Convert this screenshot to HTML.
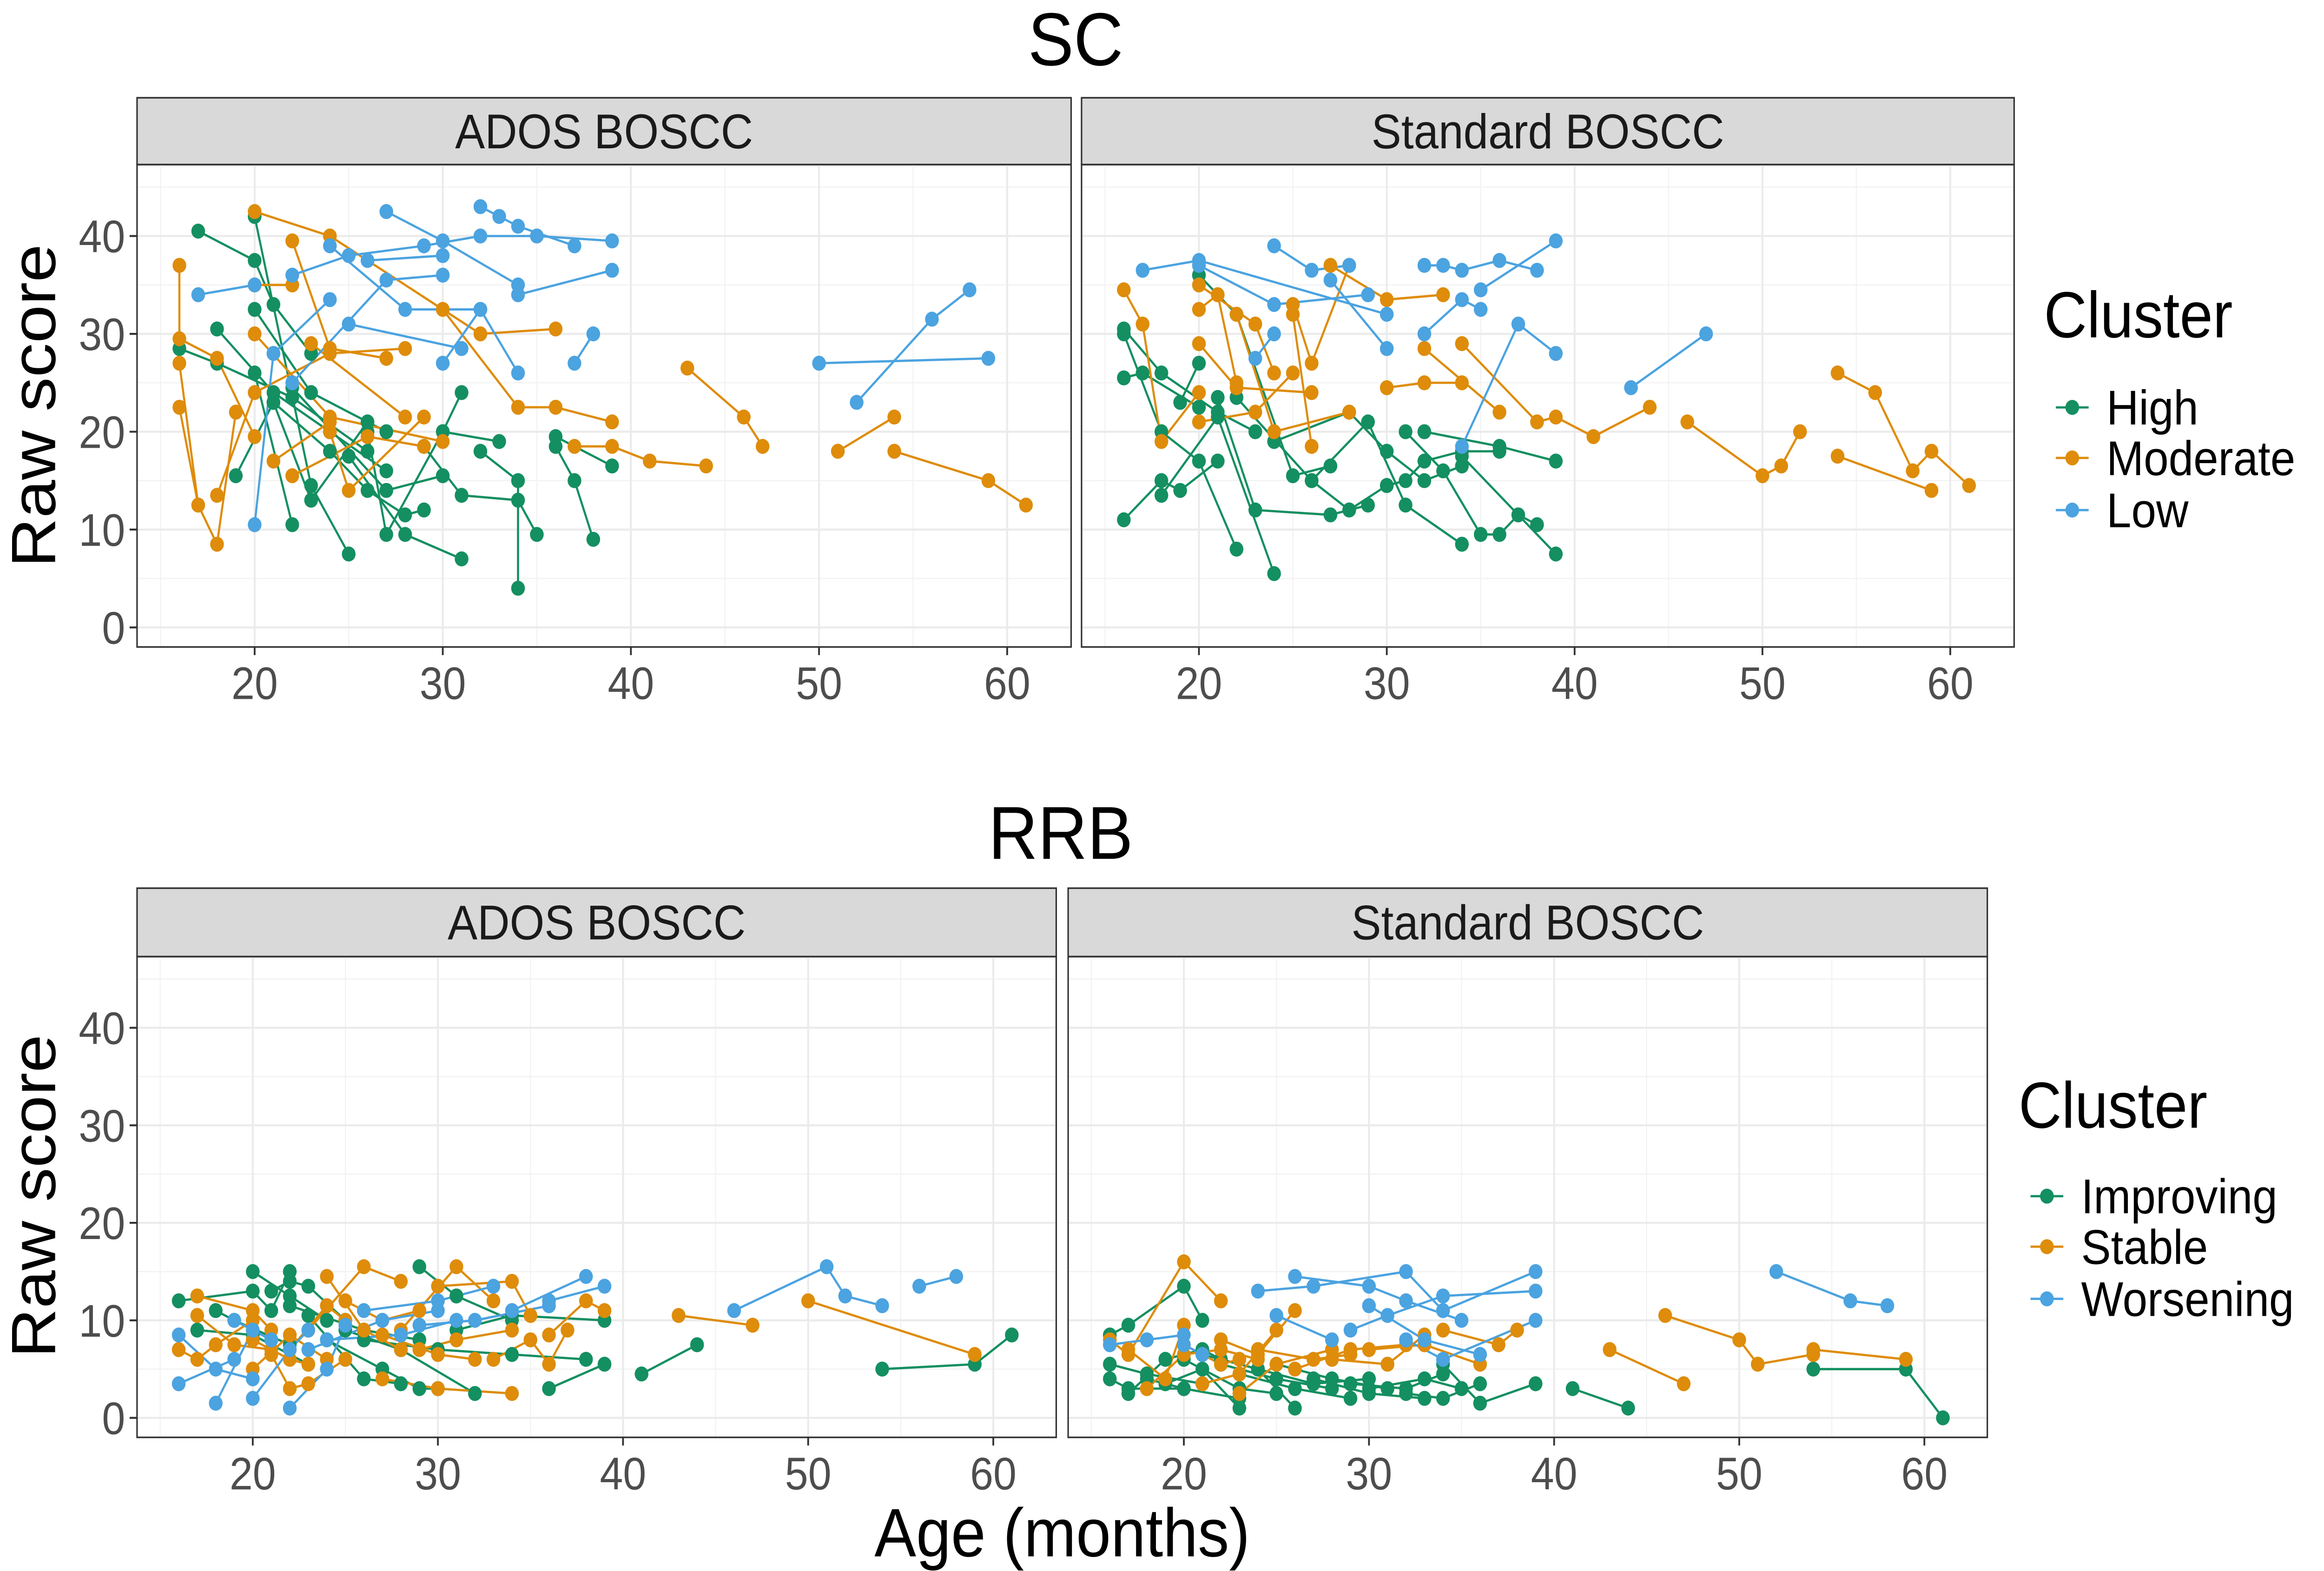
<!DOCTYPE html>
<html><head><meta charset="utf-8">
<style>
html,body{margin:0;padding:0;background:#fff;width:100%;height:100%;overflow:hidden;}
svg{display:block;position:absolute;left:0;top:0;width:100vw;height:100vh;font-family:"Liberation Sans",Arial,sans-serif;}
</style></head>
<body>
<svg id="chart" viewBox="0 0 1560 964" preserveAspectRatio="none" xmlns="http://www.w3.org/2000/svg">
<g id="root"></g>
</svg>
<script>
// ---------- data ----------
const xTicks = [20, 30, 40, 50, 60];
const yTicks = [0, 10, 20, 30, 40];
const scClusters = ["High", "Moderate", "Low"];
const rrbClusters = ["Improving", "Stable", "Worsening"];
const facetNames = ["ADOS BOSCC", "Standard BOSCC"];

const scAdosHigh = [
 [[17,40.5],[20,37.5],[21,33],[23,28]],[[16,28.5],[18,27],[22,23.5],[26,18]],[[18,30.5],[21,24],[24,20],[27,16]],
 [[20,42],[23,14.5],[25,7.5]],[[19,15.5],[21,23],[23,13],[26,21]],[[20,26],[22,10.5]],
 [[21,23],[24,18],[26,14],[28,11.5],[29,12]],[[22,24.5],[27,14],[30,15.5]],[[25,17.5],[28,9.5],[31,7]],
 [[26,20],[27,9.5],[30,20],[33,19]],[[29,18.5],[31,13.5],[34,13],[35,9.5]],[[30,20],[31,24]],
 [[32,18],[34,15],[34,4]],[[36,18.5],[37,15],[38,9]],[[36,19.5],[39,16.5]],[[20,32.5],[23,24],[27,20]]];
const scAdosModerate = [
 [[16,37],[16,27],[17,12.5]],[[20,42.5],[24,40],[32,30],[36,30.5]],[[16,29.5],[18,27.5],[20,19.5]],
 [[16,22.5],[17,12.5],[18,8.5],[19,22]],[[18,13.5],[20,24],[24,28],[28,28.5]],[[22,39.5],[24,28.5],[27,27.5]],
 [[20,35],[22,35]],[[21,17],[24,21]],[[23,29],[28,21.5]],[[24,20],[25,14],[29,21.5]],
 [[30,32.5],[34,22.5],[36,22.5],[39,21]],[[22,15.5],[26,19.5],[29,18.5]],[[37,18.5],[39,18.5],[41,17],[44,16.5]],
 [[43,26.5],[46,21.5],[47,18.5]],[[51,18],[54,21.5]],[[54,18],[59,15],[61,12.5]],[[20,30],[24,21.5],[30,19]]];
const scAdosLow = [
 [[20,10.5],[21,28]],[[17,34],[20,35]],[[27,42.5],[30,39.5],[34,35]],[[22,36],[25,38],[29,39],[32,40],[35,40],[39,39.5]],
 [[24,39],[28,32.5],[32,32.5]],[[32,43],[33,42],[34,41],[37,39]],[[26,37.5],[30,38]],[[30,27],[32,32.5],[34,26]],
 [[22,25],[27,35.5],[30,36]],[[38,30],[37,27]],[[25,31],[31,28.5]],[[39,36.5],[34,34]],[[50,27],[59,27.5]],
 [[52,23],[56,31.5],[58,34.5]],[[21,28],[24,33.5]]];
const scStdHigh = [
 [[16,30.5],[18,26],[21,22],[23,20]],[[16,25.5],[17,26],[20,22.5]],[[16,11],[18,15],[19,14],[21,17]],
 [[16,30],[18,20],[20,17],[22,8]],[[18,13.5],[21,21.5],[24,5.5]],[[20,36],[22,32],[25,15.5],[27,16.5]],
 [[21,23.5],[23,12],[27,11.5],[29,12.5]],[[22,23.5],[26,15],[28,12],[30,14.5]],[[24,19],[28,22],[30,18],[32,15],[34,16.5]],
 [[26,15],[29,21],[31,12.5],[34,8.5]],[[30,14.5],[31,15],[32,17],[34,18],[36,18]],
 [[31,20],[33,16],[35,9.5],[36,9.5],[37,11.5],[38,10.5]],[[32,20],[36,18.5],[39,17]],[[34,17.5],[39,7.5]],[[19,23],[20,27]]];
const scStdModerate = [
 [[16,34.5],[17,31],[18,19],[20,24]],[[20,32.5],[21,34],[22,25]],[[20,35],[23,31],[24,26]],[[20,29],[22,24.5],[26,24]],
 [[22,32],[24,20],[28,22]],[[25,33],[26,27],[28,37]],[[27,37],[30,33.5],[33,34]],[[25,32],[26,18.5]],
 [[30,24.5],[32,25],[34,25]],[[32,28.5],[36,22]],[[34,29],[38,21],[39,21.5],[41,19.5],[44,22.5]],
 [[46,21],[50,15.5],[51,16.5],[52,20]],[[54,26],[56,24],[58,16],[59,18],[61,14.5]],[[54,17.5],[59,14]],[[20,21],[23,22],[25,26]]];
const scStdLow = [
 [[17,36.5],[20,37.5],[30,32]],[[20,37],[24,33],[29,34]],[[24,39],[26,36.5],[28,37]],
 [[32,37],[33,37],[34,36.5],[36,37.5],[38,36.5]],[[35,34.5],[39,39.5]],[[27,35.5],[30,28.5]],
 [[32,30],[34,33.5],[35,32.5]],[[23,27.5],[24,30]],[[34,18.5],[37,31],[39,28]],[[43,24.5],[47,30]]];
const rrbAdosImp = [
 [[16,12],[20,13],[21,11],[22,15]],[[18,11],[20,9],[21,8]],[[20,15],[22,12.5],[24,10]],[[21,13],[22,14],[23,13.5],[25,10]],
 [[22,11.5],[26,9],[29,8]],[[23,10.5],[26,4],[28,3.5]],[[24,8],[27,5],[29,3],[30,3]],[[25,9],[28,7],[32,2.5]],
 [[29,15.5],[31,12.5],[34,10]],[[26,8],[30,7],[34,6.5],[38,6]],[[31,9],[34,10.5],[39,10]],[[36,3],[39,5.5]],
 [[41,4.5],[44,7.5]],[[54,5],[59,5.5],[61,8.5]],[[17,9],[20,8.5],[23,5.5]],[[19,10],[22,7.5]]];
const rrbAdosStable = [
 [[16,7],[17,6],[18,7.5],[20,10]],[[17,12.5],[20,11],[21,9]],[[17,10.5],[19,7.5],[21,7]],[[20,8],[22,6],[23,5.5]],
 [[21,6.5],[22,3],[23,3.5],[25,6]],[[22,7],[24,11.5],[25,10]],[[23,9],[26,15.5],[28,14]],[[24,14.5],[26,9],[28,7]],
 [[25,12],[27,10],[29,11]],[[27,8.5],[30,6.5],[32,6]],[[27,4],[30,3],[34,2.5]],[[28,9],[31,15.5],[33,12]],
 [[29,7],[31,8],[34,9]],[[30,13.5],[34,14],[35,10.5]],[[33,6],[35,8],[36,5.5],[37,9]],[[36,8.5],[38,12],[39,11]],
 [[43,10.5],[47,9.5]],[[50,12],[59,6.5]],[[20,5],[22,8.5],[24,6]]];
const rrbAdosWorse = [
 [[16,8.5],[18,5],[20,4]],[[16,3.5],[19,6]],[[18,1.5],[20,9]],[[20,2],[22,7],[23,9]],[[22,1],[24,5],[25,9.5]],
 [[23,7],[27,10],[30,11]],[[24,8],[28,8.5],[31,10]],[[26,11],[30,12],[33,13.5]],[[29,9.5],[32,10],[36,11.5]],
 [[34,11],[38,14.5]],[[36,12],[39,13.5]],[[46,11],[51,15.5],[52,12.5],[54,11.5]],[[56,13.5],[58,14.5]],[[19,10],[21,8]]];
const rrbStdImp = [
 [[16,4],[17,3],[20,3]],[[16,5.5],[18,4.5],[21,3.5]],[[16,8.5],[17,9.5],[20,13.5],[21,10]],[[17,2.5],[19,6],[21,7],[22,6]],
 [[18,4],[20,3],[23,2]],[[19,3.5],[21,5],[23,1]],[[20,6],[23,3],[25,2.5]],[[21,6.5],[24,5],[26,1]],
 [[22,5.5],[25,4],[28,3]],[[23,4.5],[26,3],[29,2]],[[24,5],[27,3.5],[30,4]],[[25,5.5],[28,4],[31,3]],
 [[27,4],[30,2.5],[33,2]],[[29,3.5],[32,3],[34,4.5]],[[30,3],[33,4],[35,3]],[[32,2.5],[34,2],[36,3.5]],
 [[34,5.5],[36,1.5],[39,3.5]],[[41,3],[44,1]],[[54,5],[59,5],[61,0]]];
const rrbStdStable = [
 [[16,8],[17,6.5],[20,16],[22,12]],[[17,7],[19,4],[20,9.5]],[[18,3],[20,6.5],[22,7],[24,6]],[[20,7.5],[22,5.5],[23,6]],
 [[21,3.5],[23,4.5],[25,9]],[[22,8],[24,6.5],[26,11]],[[23,2.5],[25,5.5],[28,7]],[[24,7],[27,6],[29,6.5]],
 [[26,5],[29,7],[32,7.5]],[[28,6],[31,5.5],[33,8.5]],[[30,7],[33,7.5],[36,5.5]],[[34,9],[37,7.5],[38,9]],
 [[43,7],[47,3.5]],[[46,10.5],[50,8],[51,5.5],[54,6.5]],[[54,7],[59,6]]];
const rrbStdWorse = [
 [[16,7.5],[18,8],[20,8.5]],[[20,7.5],[21,6.5]],[[24,13],[27,13.5],[32,15],[34,11]],[[26,14.5],[30,13.5],[32,12],[35,10]],
 [[29,9],[31,10.5],[34,12.5],[39,13]],[[30,11.5],[33,8],[36,6.5]],[[34,11],[39,15]],[[32,8],[34,6],[39,10]],
 [[52,15],[56,12],[58,11.5]],[[25,10.5],[28,8]]];

// ---------- drawing ----------
const NS = "http://www.w3.org/2000/svg";
const root = document.getElementById("root");
const COLORS = ["#148F61", "#DE8C0A", "#4BA3E0"];
const XD = [13.75, 63.4], YD = [-2, 47.3];

function mk(tag, attrs, parent) {
  const e = document.createElementNS(NS, tag);
  for (const k in attrs) e.setAttribute(k, attrs[k]);
  (parent || root).appendChild(e);
  return e;
}
function txt(s, attrs, parent) { const t = mk("text", attrs, parent); t.textContent = s; return t; }

function panel(px0, px1, py0, py1, stripTop, facet, groups, showY, key) {
  const g = mk("g", {});
  
  
  const sx = v => px0 + (v - XD[0]) / (XD[1] - XD[0]) * (px1 - px0);
  const sy = v => py1 - (v - YD[0]) / (YD[1] - YD[0]) * (py1 - py0);
  const strip = mk("rect", {x: px0, y: stripTop, width: px1 - px0, height: py0 - stripTop, fill: "#d9d9d9", stroke: "#333", "stroke-width": 1}, g);
  
  
  const st = txt(facet, {x: (px0 + px1) / 2, y: (stripTop + py0) / 2 + 10.5, "text-anchor": "middle", "font-size": 30, fill: "#1a1a1a"}, g);
  
  
  for (let v = 15; v <= 60; v += 10) mk("line", {x1: sx(v), x2: sx(v), y1: py0, y2: py1, stroke: "#f2f2f2", "stroke-width": 0.7}, g);
  for (let v = 5; v <= 45; v += 10) mk("line", {x1: px0, x2: px1, y1: sy(v), y2: sy(v), stroke: "#f2f2f2", "stroke-width": 0.7}, g);
  xTicks.forEach(v => mk("line", {x1: sx(v), x2: sx(v), y1: py0, y2: py1, stroke: "#ebebeb", "stroke-width": 1.3}, g));
  yTicks.forEach(v => mk("line", {x1: px0, x2: px1, y1: sy(v), y2: sy(v), stroke: "#ebebeb", "stroke-width": 1.3}, g));
  groups.forEach((trajs, ci) => {
    trajs.forEach(tr => {
      const pl = mk("polyline", {points: tr.map(p => sx(p[0]) + "," + sy(p[1])).join(" "), fill: "none", stroke: COLORS[ci], "stroke-width": 1.4}, g);
      
      
    });
  });
  groups.forEach((trajs, ci) => {
    trajs.forEach(tr => tr.forEach(p => {
      const c = mk("circle", {cx: sx(p[0]), cy: sy(p[1]), r: 4.6, fill: COLORS[ci]}, g);
      
      
    }));
  });
  mk("rect", {x: px0, y: py0, width: px1 - px0, height: py1 - py0, fill: "none", stroke: "#333", "stroke-width": 1}, g);
  xTicks.forEach(v => {
    mk("line", {x1: sx(v), x2: sx(v), y1: py1, y2: py1 + 5, stroke: "#333", "stroke-width": 1.2}, g);
    const t = txt(String(v), {x: sx(v), y: py1 + 32, "text-anchor": "middle", "font-size": 28, fill: "#4d4d4d"}, g);
    
    
  });
  if (showY) yTicks.forEach(v => {
    mk("line", {x1: px0 - 5, x2: px0, y1: sy(v), y2: sy(v), stroke: "#333", "stroke-width": 1.2}, g);
    const t = txt(String(v), {x: px0 - 8, y: sy(v) + 10, "text-anchor": "end", "font-size": 28, fill: "#4d4d4d"}, g);
    
    
  });
}

function legend(x, titleY, ys, names, key) {
  const g = mk("g", {});
  
  
  const t = txt("Cluster", {x: x, y: titleY, "font-size": 40, fill: "#000"}, g);
  
  
  names.forEach((n, i) => {
    const y = ys[i];
    mk("line", {x1: x + 8, x2: x + 30, y1: y, y2: y, stroke: COLORS[i], "stroke-width": 1.4}, g);
    mk("circle", {cx: x + 19, cy: y, r: 4.6, fill: COLORS[i]}, g);
    const l = txt(n, {x: x + 42, y: y + 10.5, "font-size": 30, fill: "#000"}, g);
    
    
  });
}

let t;
t = txt("SC", {x: 722, y: 40, "text-anchor": "middle", "font-size": 46, fill: "#000"});
 
t = txt("RRB", {x: 712, y: 527, "text-anchor": "middle", "font-size": 46, fill: "#000"});
 

panel(92, 719, 101, 397, 60, facetNames[0], [scAdosHigh, scAdosModerate, scAdosLow], true, "sc-ados");
panel(726, 1352, 101, 397, 60, facetNames[1], [scStdHigh, scStdModerate, scStdLow], false, "sc-standard");
panel(92, 709, 587, 882, 545, facetNames[0], [rrbAdosImp, rrbAdosStable, rrbAdosWorse], true, "rrb-ados");
panel(717, 1334, 587, 882, 545, facetNames[1], [rrbStdImp, rrbStdStable, rrbStdWorse], false, "rrb-standard");

t = txt("Raw score", {x: 0, y: 0, "text-anchor": "middle", "font-size": 42, fill: "#000", transform: "translate(37,249) rotate(-90)"});
 
t = txt("Raw score", {x: 0, y: 0, "text-anchor": "middle", "font-size": 42, fill: "#000", transform: "translate(37,734) rotate(-90)"});
 
t = txt("Age (months)", {x: 713, y: 955, "text-anchor": "middle", "font-size": 42, fill: "#000"});
 

legend(1372, 207, [250, 281, 313], scClusters, "sc");
legend(1355, 692, [734, 765, 797], rrbClusters, "rrb");
</script>
</body></html>
